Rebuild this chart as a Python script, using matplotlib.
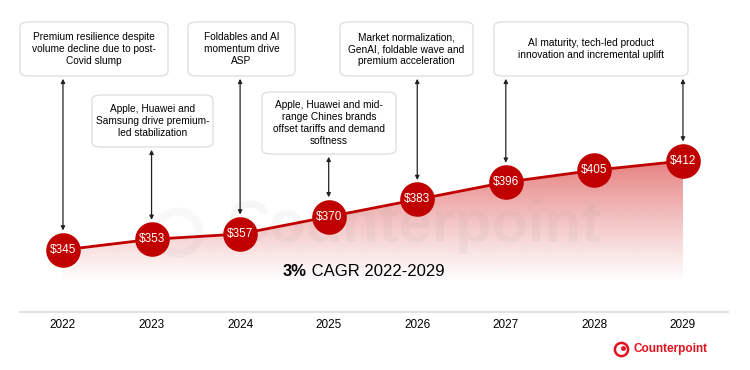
# Premium-Smartphone ASP 2022-2029 mit Treibern je Jahr

import numpy as np
import matplotlib.pyplot as plt
from matplotlib.patches import FancyBboxPatch
from matplotlib.colors import to_rgb
import matplotlib.transforms as mtransforms

plt.rcParams["font.family"] = ["Liberation Sans", "DejaVu Sans"]

# Daten
jahre = ["2022", "2023", "2024", "2025", "2026", "2027", "2028", "2029"]
asp = [345, 353, 357, 370, 383, 396, 405, 412]
labels = ["$345", "$353", "$357", "$370", "$383", "$396", "$405", "$412"]

treiber = [
    "Premium resilience despite\nvolume decline due to post-\nCovid slump",
    "Apple, Huawei and\nSamsung drive premium-\nled stabilization",
    "Foldables and AI\nmomentum drive\nASP",
    "Apple, Huawei and mid-\nrange Chines brands\noffset tariffs and demand\nsoftness",
    "Market normalization,\nGenAI, foldable wave and\npremium acceleration",
    "AI maturity, tech-led product\ninnovation and incremental uplift",
]

# Box-Layout in Pixel (x0, y0 oben, x1, y1 unten) und zugehoerige Pfeile (Jahr-Index, Box-Index)
W, H = 750, 370
boxen = [
    (20, 22, 168, 76),
    (92, 95, 213, 147),
    (188, 22, 295, 76),
    (262, 92, 396, 154),
    (340, 22, 473, 76),
    (494, 22, 688, 76),
]
pfeile = [(0, 0), (1, 1), (2, 2), (3, 3), (4, 4), (5, 5), (7, 5)]

rot = "#c00000"

fig = plt.figure(figsize=(7.5, 3.7), dpi=100)
ax = fig.add_axes([0, 0, 1, 1])
x = np.arange(len(jahre))
ax.set_xlim(-0.711, 7.757)
ax.set_ylim(254.6, 533.2)
ax.axis("off")

def fx(px):
    return px / W

def fy(py):
    return 1 - py / H

# Verlaufsflaeche unter der Linie
boden = 320
poly = ax.fill_between(x, asp, boden, color="none", lw=0)
n = 256
alpha = np.linspace(0, 0.62, n) ** 1.1
img = np.zeros((n, 1, 4))
img[:, 0, :3] = to_rgb("#d42020")
img[:, 0, 3] = alpha
im = ax.imshow(img, extent=[x[0], x[-1], boden, 415], origin="lower",
               aspect="auto", interpolation="bilinear", zorder=1)
im.set_clip_path(poly.get_paths()[0], transform=ax.transData)

# Wasserzeichen
ax.text(fx(414), fy(226), "Counterpoint", transform=ax.transAxes, fontsize=43,
        fontweight="bold", color="#888888", alpha=0.07, ha="center", va="center", zorder=2)
ax.plot([fx(178)], [fy(232)], transform=ax.transAxes, marker="o", ms=30, mfc="none",
        mec="#888888", mew=6, alpha=0.06, zorder=2)

# Linie und Kreise
ax.plot(x, asp, color=rot, lw=2, zorder=3)
ax.scatter(x, asp, s=620, color=rot, zorder=4, lw=0)
for xi, v, t in zip(x, asp, labels):
    ax.text(xi, v, t, color="white", fontsize=8.5, ha="center", va="center", zorder=5)

# Boxen mit Texten
for (x0, y0, x1, y1), t in zip(boxen, treiber):
    ax.add_patch(FancyBboxPatch((fx(x0), fy(y1)), fx(x1 - x0), (y1 - y0) / H,
                                boxstyle="round,pad=0,rounding_size=0.012",
                                transform=ax.transAxes, fc="white", ec="#d9d9d9", lw=0.8, zorder=3))
    ax.text(fx((x0 + x1) / 2), fy((y0 + y1) / 2), t, transform=ax.transAxes,
            fontsize=7.3, ha="center", va="center", linespacing=1.25, zorder=4)

# Pfeile von Box zu Kreis
for i, b in pfeile:
    unten = fy(boxen[b][3])
    ax.annotate("", xy=(x[i], asp[i]), xycoords="data",
                xytext=(x[i], unten), textcoords=("data", "axes fraction"),
                arrowprops=dict(arrowstyle="<|-|>", color="#222222", lw=0.9,
                                mutation_scale=6, shrinkA=2, shrinkB=14), zorder=3)

# CAGR
t1 = ax.text(fx(283), fy(271), "3%", transform=ax.transAxes, fontsize=12,
             fontweight="bold", ha="left", va="center", zorder=5)
ax.annotate(" CAGR 2022-2029", xy=(1, 0.5), xycoords=t1, fontsize=12,
            ha="left", va="center", zorder=5)

# Achse und Jahre
ax.plot([fx(20), fx(728)], [fy(312), fy(312)], transform=ax.transAxes,
        color="#e3e3e3", lw=1.5, zorder=2)
trans = mtransforms.blended_transform_factory(ax.transData, ax.transAxes)
for xi, j in zip(x, jahre):
    ax.text(xi, fy(325), j, transform=trans, fontsize=8.5, ha="center", va="center")

# Logo unten rechts
ax.plot([fx(621)], [fy(349)], transform=ax.transAxes, marker="o", ms=9.5, mfc="none",
        mec="#e2101e", mew=1.8, zorder=5)
ax.plot([fx(622.5)], [fy(347.5)], transform=ax.transAxes, marker="o", ms=2.5,
        color="#e2101e", zorder=5)
ax.text(fx(633), fy(349), "Counterpoint", transform=ax.transAxes, fontsize=8.5,
        fontweight="bold", color="#e2101e", ha="left", va="center")

fig.savefig("out.png", dpi=100)
